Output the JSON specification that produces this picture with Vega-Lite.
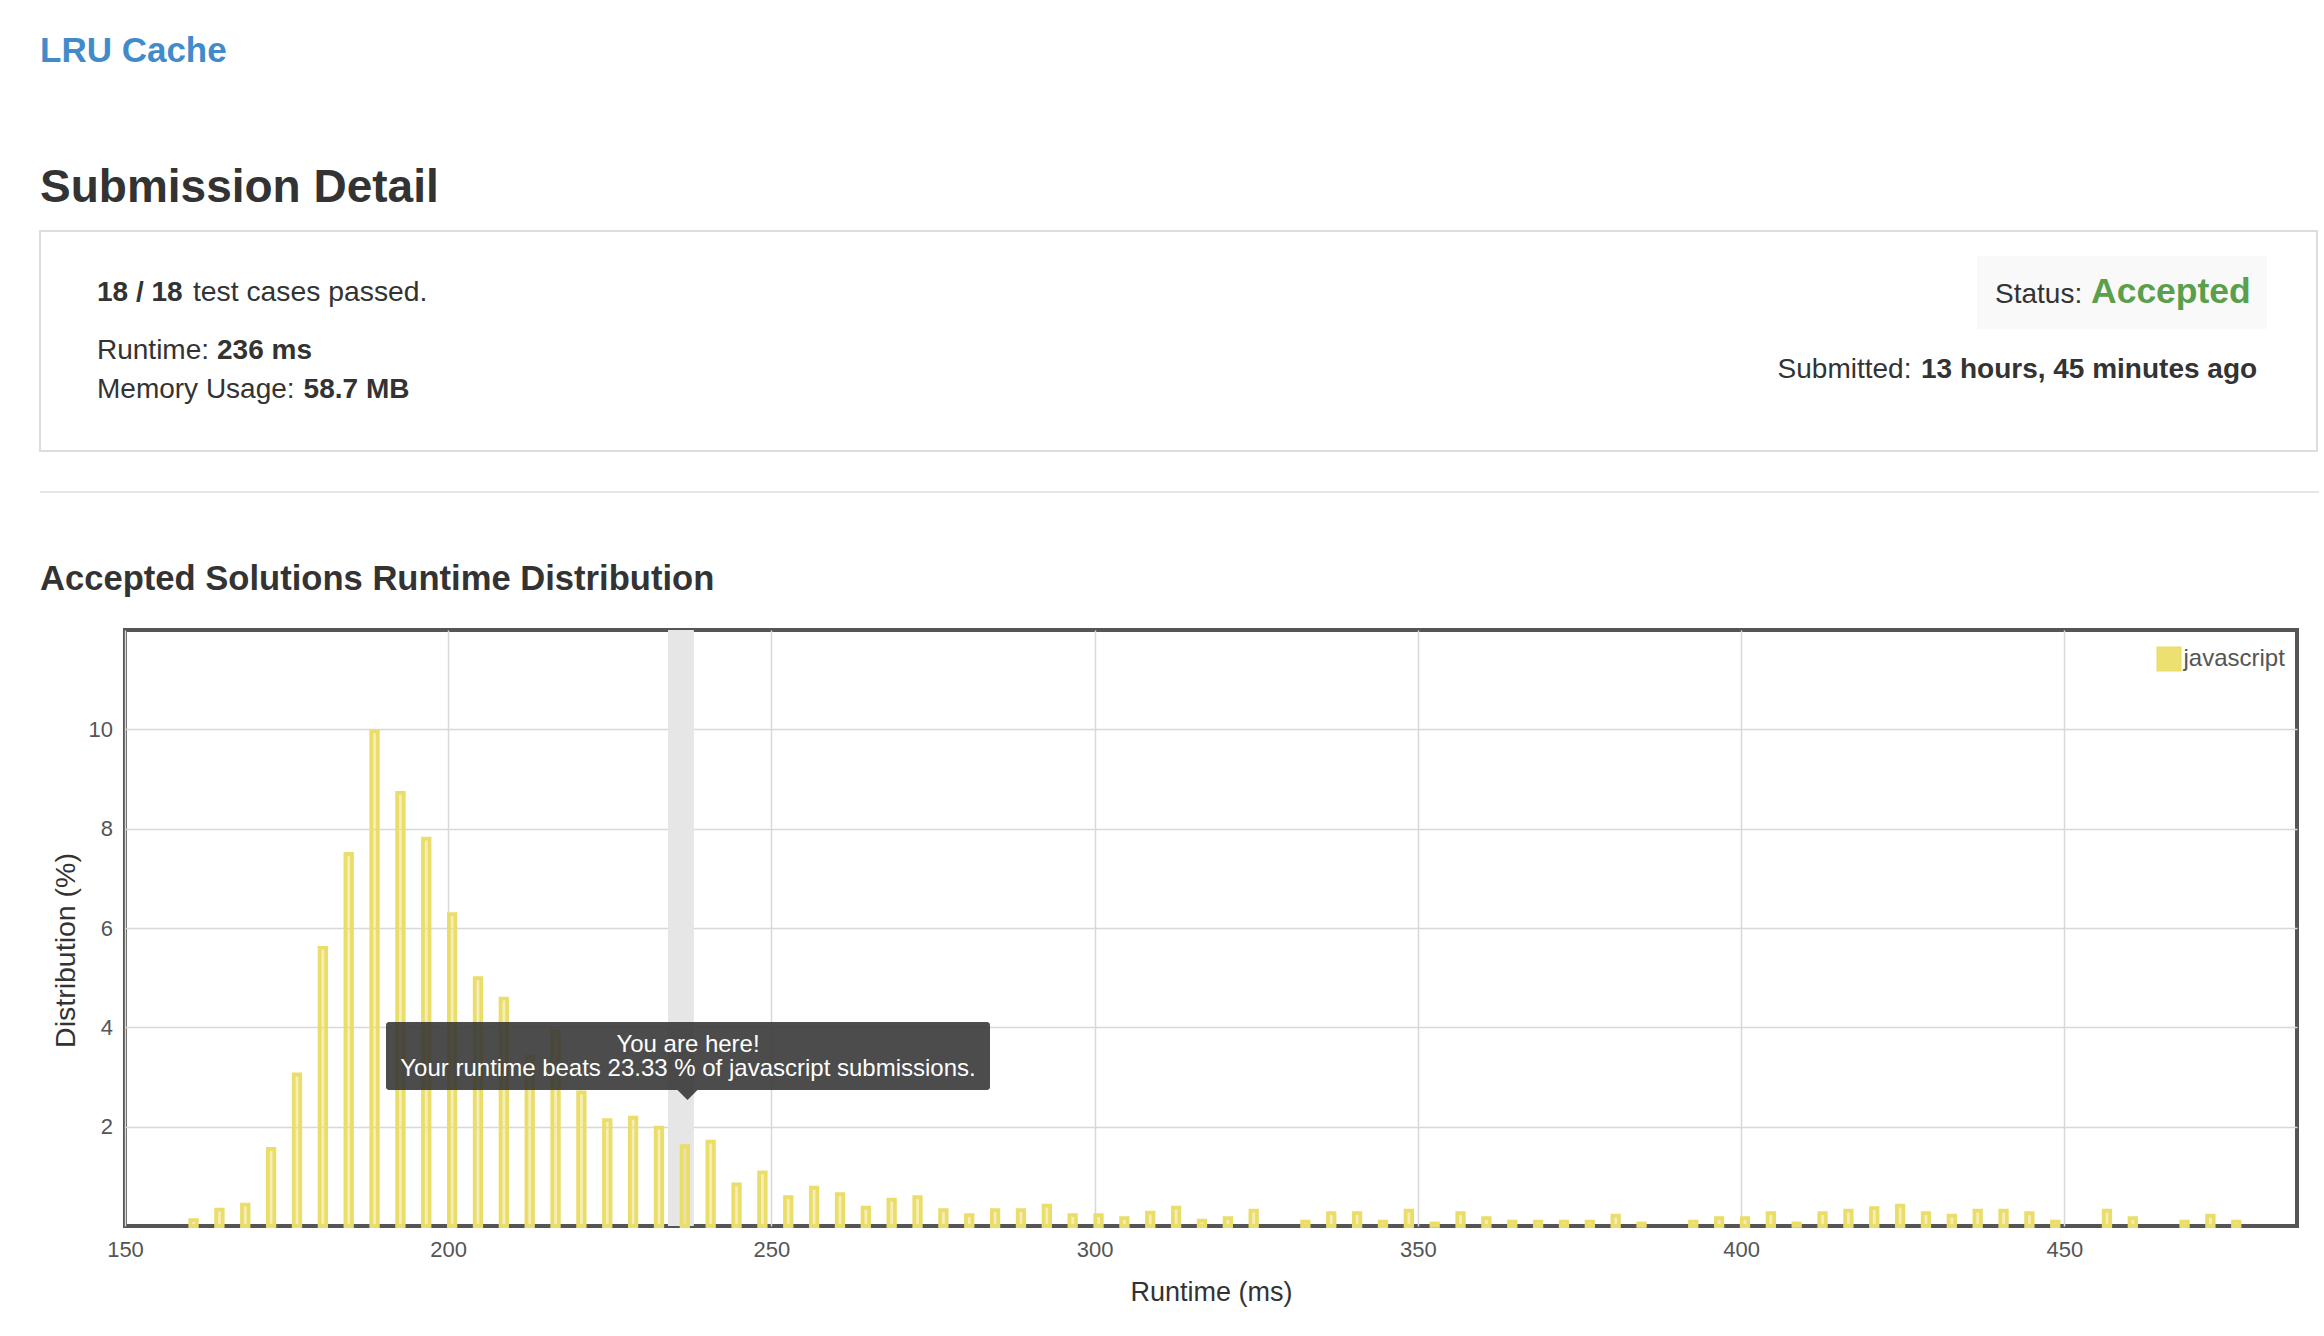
{
  "$schema": "https://vega.github.io/schema/vega-lite/v6.json",
  "width": 2172,
  "height": 596,
  "autosize": {"type": "none"},
  "padding": {"left": 125, "top": 630, "right": 27, "bottom": 110},
  "background": "white",
  "config": {
    "font": "Liberation Sans",
    "view": {"stroke": "#555555", "strokeWidth": 4},
    "axisX": {
      "grid": true, "gridColor": "#d8d8d8", "gridWidth": 1.5,
      "domain": false, "ticks": false, "tickSize": 0,
      "labelFontSize": 22, "labelColor": "#555555", "labelPadding": 13.4,
      "labelFlush": false, "labelOverlap": false,
      "titleFontSize": 27, "titleFontWeight": "normal", "titleColor": "#333333",
      "titleY": 74, "titleBaseline": "alphabetic"
    },
    "axisY": {
      "grid": true, "gridColor": "#d8d8d8", "gridWidth": 1.5,
      "domain": false, "ticks": false, "tickSize": 0,
      "labelFontSize": 22, "labelColor": "#555555", "labelPadding": 12.4,
      "labelOverlap": false,
      "titleFontSize": 28.5, "titleFontWeight": "normal", "titleColor": "#333333",
      "titleX": -51, "titleY": 320, "titleAngle": -90, "titleAlign": "center", "titleBaseline": "alphabetic"
    }
  },
  "datasets": {
    "dist": [
      {"runtime": 160, "pct": 0.12, "lang": "javascript"},
      {"runtime": 164, "pct": 0.33, "lang": "javascript"},
      {"runtime": 168, "pct": 0.43, "lang": "javascript"},
      {"runtime": 172, "pct": 1.55, "lang": "javascript"},
      {"runtime": 176, "pct": 3.05, "lang": "javascript"},
      {"runtime": 180, "pct": 5.6, "lang": "javascript"},
      {"runtime": 184, "pct": 7.49, "lang": "javascript"},
      {"runtime": 188, "pct": 9.96, "lang": "javascript"},
      {"runtime": 192, "pct": 8.72, "lang": "javascript"},
      {"runtime": 196, "pct": 7.8, "lang": "javascript"},
      {"runtime": 200, "pct": 6.28, "lang": "javascript"},
      {"runtime": 204, "pct": 4.99, "lang": "javascript"},
      {"runtime": 208, "pct": 4.58, "lang": "javascript"},
      {"runtime": 212, "pct": 3.41, "lang": "javascript"},
      {"runtime": 216, "pct": 3.92, "lang": "javascript"},
      {"runtime": 220, "pct": 2.69, "lang": "javascript"},
      {"runtime": 224, "pct": 2.13, "lang": "javascript"},
      {"runtime": 228, "pct": 2.18, "lang": "javascript"},
      {"runtime": 232, "pct": 1.98, "lang": "javascript"},
      {"runtime": 236, "pct": 1.61, "lang": "javascript"},
      {"runtime": 240, "pct": 1.7, "lang": "javascript"},
      {"runtime": 244, "pct": 0.84, "lang": "javascript"},
      {"runtime": 248, "pct": 1.08, "lang": "javascript"},
      {"runtime": 252, "pct": 0.58, "lang": "javascript"},
      {"runtime": 256, "pct": 0.77, "lang": "javascript"},
      {"runtime": 260, "pct": 0.64, "lang": "javascript"},
      {"runtime": 264, "pct": 0.37, "lang": "javascript"},
      {"runtime": 268, "pct": 0.53, "lang": "javascript"},
      {"runtime": 272, "pct": 0.58, "lang": "javascript"},
      {"runtime": 276, "pct": 0.32, "lang": "javascript"},
      {"runtime": 280, "pct": 0.22, "lang": "javascript"},
      {"runtime": 284, "pct": 0.32, "lang": "javascript"},
      {"runtime": 288, "pct": 0.32, "lang": "javascript"},
      {"runtime": 292, "pct": 0.41, "lang": "javascript"},
      {"runtime": 296, "pct": 0.22, "lang": "javascript"},
      {"runtime": 300, "pct": 0.22, "lang": "javascript"},
      {"runtime": 304, "pct": 0.16, "lang": "javascript"},
      {"runtime": 308, "pct": 0.27, "lang": "javascript"},
      {"runtime": 312, "pct": 0.37, "lang": "javascript"},
      {"runtime": 316, "pct": 0.11, "lang": "javascript"},
      {"runtime": 320, "pct": 0.16, "lang": "javascript"},
      {"runtime": 324, "pct": 0.31, "lang": "javascript"},
      {"runtime": 332, "pct": 0.09, "lang": "javascript"},
      {"runtime": 336, "pct": 0.26, "lang": "javascript"},
      {"runtime": 340, "pct": 0.26, "lang": "javascript"},
      {"runtime": 344, "pct": 0.09, "lang": "javascript"},
      {"runtime": 348, "pct": 0.31, "lang": "javascript"},
      {"runtime": 352, "pct": 0.05, "lang": "javascript"},
      {"runtime": 356, "pct": 0.26, "lang": "javascript"},
      {"runtime": 360, "pct": 0.16, "lang": "javascript"},
      {"runtime": 364, "pct": 0.09, "lang": "javascript"},
      {"runtime": 368, "pct": 0.09, "lang": "javascript"},
      {"runtime": 372, "pct": 0.09, "lang": "javascript"},
      {"runtime": 376, "pct": 0.09, "lang": "javascript"},
      {"runtime": 380, "pct": 0.21, "lang": "javascript"},
      {"runtime": 384, "pct": 0.05, "lang": "javascript"},
      {"runtime": 392, "pct": 0.09, "lang": "javascript"},
      {"runtime": 396, "pct": 0.16, "lang": "javascript"},
      {"runtime": 400, "pct": 0.16, "lang": "javascript"},
      {"runtime": 404, "pct": 0.26, "lang": "javascript"},
      {"runtime": 408, "pct": 0.05, "lang": "javascript"},
      {"runtime": 412, "pct": 0.26, "lang": "javascript"},
      {"runtime": 416, "pct": 0.31, "lang": "javascript"},
      {"runtime": 420, "pct": 0.36, "lang": "javascript"},
      {"runtime": 424, "pct": 0.41, "lang": "javascript"},
      {"runtime": 428, "pct": 0.26, "lang": "javascript"},
      {"runtime": 432, "pct": 0.21, "lang": "javascript"},
      {"runtime": 436, "pct": 0.31, "lang": "javascript"},
      {"runtime": 440, "pct": 0.31, "lang": "javascript"},
      {"runtime": 444, "pct": 0.26, "lang": "javascript"},
      {"runtime": 448, "pct": 0.09, "lang": "javascript"},
      {"runtime": 456, "pct": 0.31, "lang": "javascript"},
      {"runtime": 460, "pct": 0.16, "lang": "javascript"},
      {"runtime": 468, "pct": 0.09, "lang": "javascript"},
      {"runtime": 472, "pct": 0.21, "lang": "javascript"},
      {"runtime": 476, "pct": 0.09, "lang": "javascript"}
    ],
    "you": [{"start": 234, "end": 238}]
  },
  "layer": [
    {
      "data": {"name": "you"},
      "mark": {"type": "rect", "color": "#e6e6e6"},
      "encoding": {
        "x": {"field": "start", "type": "quantitative", "title": "Runtime (ms)", "scale": {"domain": [150, 486], "nice": false, "zero": false, "padding": 0}, "axis": {"values": [150, 200, 250, 300, 350, 400, 450]}},
        "x2": {"field": "end"},
        "y": {"datum": 0, "type": "quantitative", "title": "Distribution (%)", "scale": {"domain": [0, 12], "nice": false, "padding": 0}, "axis": {"values": [2, 4, 6, 8, 10]}},
        "y2": {"datum": 12}
      }
    },
    {
      "data": {"name": "dist"},
      "mark": {"type": "bar", "size": 6.5, "stroke": "#ebdd6a", "strokeWidth": 3.8, "fillOpacity": 0.5, "xOffset": 3.9},
      "encoding": {
        "x": {"field": "runtime", "type": "quantitative", "title": "Runtime (ms)", "scale": {"domain": [150, 486], "nice": false, "zero": false, "padding": 0}, "axis": {"values": [150, 200, 250, 300, 350, 400, 450]}},
        "y": {"field": "pct", "type": "quantitative", "title": "Distribution (%)", "scale": {"domain": [0, 12], "nice": false, "padding": 0}, "axis": {"values": [2, 4, 6, 8, 10]}},
        "color": {
          "field": "lang", "type": "nominal",
          "scale": {"domain": ["javascript"], "range": ["#ece070"]},
          "legend": {
            "orient": "none", "legendX": 2031.5, "legendY": 16.5, "title": null, "padding": 0,
            "symbolType": "square", "symbolSize": 552,
            "labelFontSize": 24, "labelColor": "#555555", "labelOffset": 2, "labelFont": "Liberation Sans",
            "encode": {"symbols": {"update": {"fill": {"value": "#ece070"}, "fillOpacity": {"value": 1}, "stroke": {"value": "#cccccc"}, "strokeWidth": {"value": 2.5}, "opacity": {"value": 1}}}}
          }
        }
      }
    },
    {
      "data": {"values": [{}]},
      "mark": {"type": "rect", "x": 261, "x2": 865, "y": 392, "y2": 460, "fill": "#333333", "opacity": 0.88, "cornerRadius": 3},
      "encoding": {}
    },
    {
      "data": {"values": [{}]},
      "mark": {"type": "point", "shape": "M-1,0L1,0L0,1Z", "size": 400, "x": 562.5, "y": 460, "filled": true, "fill": "#333333", "opacity": 0.88, "strokeWidth": 0},
      "encoding": {}
    },
    {
      "data": {"values": [{}]},
      "mark": {"type": "text", "text": ["You are here!", "Your runtime beats 23.33 % of javascript submissions."], "x": 563, "y": 422, "align": "center", "baseline": "alphabetic", "fontSize": 24, "lineHeight": 24, "color": "#ffffff"},
      "encoding": {}
    },
    {
      "data": {"values": [{}]},
      "mark": {"type": "text", "text": "LRU Cache", "x": -85, "y": -568, "align": "left", "baseline": "alphabetic", "fontSize": 35, "fontWeight": "bold", "color": "#428bca"},
      "encoding": {}
    },
    {
      "data": {"values": [{}]},
      "mark": {"type": "text", "text": "Submission Detail", "x": -85, "y": -428, "align": "left", "baseline": "alphabetic", "fontSize": 46, "fontWeight": "bold", "color": "#333333"},
      "encoding": {}
    },
    {
      "data": {"values": [{}]},
      "mark": {"type": "rect", "x": -85, "x2": 2192, "y": -399, "y2": -179, "fill": "transparent", "stroke": "#dddddd", "strokeWidth": 2},
      "encoding": {}
    },
    {
      "data": {"values": [{}]},
      "mark": {"type": "text", "text": "18 / 18", "x": -28, "y": -329, "align": "left", "baseline": "alphabetic", "fontSize": 28, "fontWeight": "bold", "color": "#333333"},
      "encoding": {}
    },
    {
      "data": {"values": [{}]},
      "mark": {"type": "text", "text": "test cases passed.", "x": 68, "y": -329, "align": "left", "baseline": "alphabetic", "fontSize": 28.3, "color": "#333333"},
      "encoding": {}
    },
    {
      "data": {"values": [{}]},
      "mark": {"type": "text", "text": "Runtime:", "x": -28, "y": -271, "align": "left", "baseline": "alphabetic", "fontSize": 28, "color": "#333333"},
      "encoding": {}
    },
    {
      "data": {"values": [{}]},
      "mark": {"type": "text", "text": "236 ms", "x": 92, "y": -271, "align": "left", "baseline": "alphabetic", "fontSize": 28, "fontWeight": "bold", "color": "#333333"},
      "encoding": {}
    },
    {
      "data": {"values": [{}]},
      "mark": {"type": "text", "text": "Memory Usage:", "x": -28, "y": -232, "align": "left", "baseline": "alphabetic", "fontSize": 28, "color": "#333333"},
      "encoding": {}
    },
    {
      "data": {"values": [{}]},
      "mark": {"type": "text", "text": "58.7 MB", "x": 178.6, "y": -232, "align": "left", "baseline": "alphabetic", "fontSize": 28, "fontWeight": "bold", "color": "#333333"},
      "encoding": {}
    },
    {
      "data": {"values": [{}]},
      "mark": {"type": "rect", "x": 1852, "x2": 2142, "y": -374, "y2": -301, "fill": "#f9f9f9"},
      "encoding": {}
    },
    {
      "data": {"values": [{}]},
      "mark": {"type": "text", "text": "Status:", "x": 1870, "y": -327, "align": "left", "baseline": "alphabetic", "fontSize": 28, "color": "#333333"},
      "encoding": {}
    },
    {
      "data": {"values": [{}]},
      "mark": {"type": "text", "text": "Accepted", "x": 1966, "y": -327, "align": "left", "baseline": "alphabetic", "fontSize": 35.5, "fontWeight": "bold", "color": "#5a9f4b"},
      "encoding": {}
    },
    {
      "data": {"values": [{}]},
      "mark": {"type": "text", "text": "Submitted:", "x": 1652.6, "y": -252, "align": "left", "baseline": "alphabetic", "fontSize": 28, "color": "#333333"},
      "encoding": {}
    },
    {
      "data": {"values": [{}]},
      "mark": {"type": "text", "text": "13 hours, 45 minutes ago", "x": 1796, "y": -252, "align": "left", "baseline": "alphabetic", "fontSize": 28, "fontWeight": "bold", "color": "#333333"},
      "encoding": {}
    },
    {
      "data": {"values": [{}]},
      "mark": {"type": "rect", "x": -85, "x2": 2194, "y": -139, "y2": -137, "fill": "#e6e6e6"},
      "encoding": {}
    },
    {
      "data": {"values": [{}]},
      "mark": {"type": "text", "text": "Accepted Solutions Runtime Distribution", "x": -85, "y": -40, "align": "left", "baseline": "alphabetic", "fontSize": 34.6, "fontWeight": "bold", "color": "#333333"},
      "encoding": {}
    }
  ]
}
